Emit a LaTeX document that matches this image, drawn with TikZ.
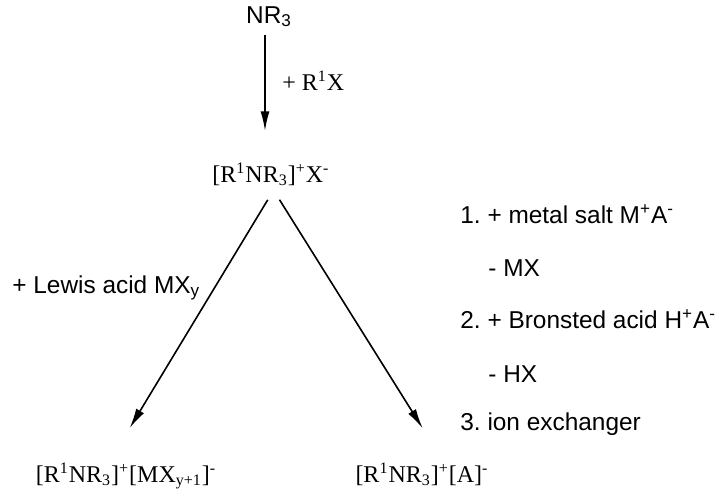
\documentclass[tikz,border=0pt]{standalone}
\usepackage{fontspec}
\setmainfont{Liberation Serif}
\newfontfamily\arialfont{Liberation Sans}
\usetikzlibrary{arrows.meta}

\begin{document}
\begin{tikzpicture}
[x=0.5pt,y=-0.5pt,
every node/.style={inner sep=0pt},
chem/.style={font=\fontsize{12}{14}\selectfont},
note/.style={font=\arialfont\fontsize{12.2}{14}\selectfont\frenchspacing},
rxn/.style={line width=0.8pt,-{Latex[length=10pt,width=4.5pt]}}]

\useasboundingbox (0,0) rectangle (728,500);

% species
\node[note,anchor=base] (nr3) at (269,23) {NR\textsubscript{3}};
\node[chem,anchor=base] (salt) at (271,182) {[R\textsuperscript{1}NR\textsubscript{3}]\textsuperscript{+}X\textsuperscript{-}};
\node[chem,anchor=base] (prodL) at (126,482) {[R\textsuperscript{1}NR\textsubscript{3}]\textsuperscript{+}[MX\textsubscript{y+1}]\textsuperscript{-}};
\node[chem,anchor=base] (prodR) at (422,482) {[R\textsuperscript{1}NR\textsubscript{3}]\textsuperscript{+}[A]\textsuperscript{-}};

% reagents
\node[chem,anchor=base west] (alk) at (282,90) {+ R\textsuperscript{1}X};
\node[note,anchor=base west] (lewis) at (12,293) {+ Lewis acid MX\textsubscript{y}};
\node[note,anchor=base west] (m1) at (460,223) {1. + metal salt M\textsuperscript{+}A\textsuperscript{-}};
\node[note,anchor=base west] (m2) at (488,276) {- MX};
\node[note,anchor=base west] (m3) at (460,328) {2. + Bronsted acid H\textsuperscript{+}A\textsuperscript{-}};
\node[note,anchor=base west] (m4) at (488,382) {- HX};
\node[note,anchor=base west] (m5) at (460,430) {3. ion exchanger};

% arrows
\draw[rxn,line width=1pt,shorten <=4pt,shorten >=15.5pt] ([xshift=-2pt]nr3.south) -- ([xshift=-3pt]salt.north);
\draw[rxn,shorten <=8pt,shorten >=20pt] ([xshift=2.5pt]salt.south) -- ([xshift=-8.5pt]prodL.north);
\draw[rxn,shorten <=8pt,shorten >=20pt] (salt.south) -- ([xshift=11pt]prodR.north);
\end{tikzpicture}
\end{document}
